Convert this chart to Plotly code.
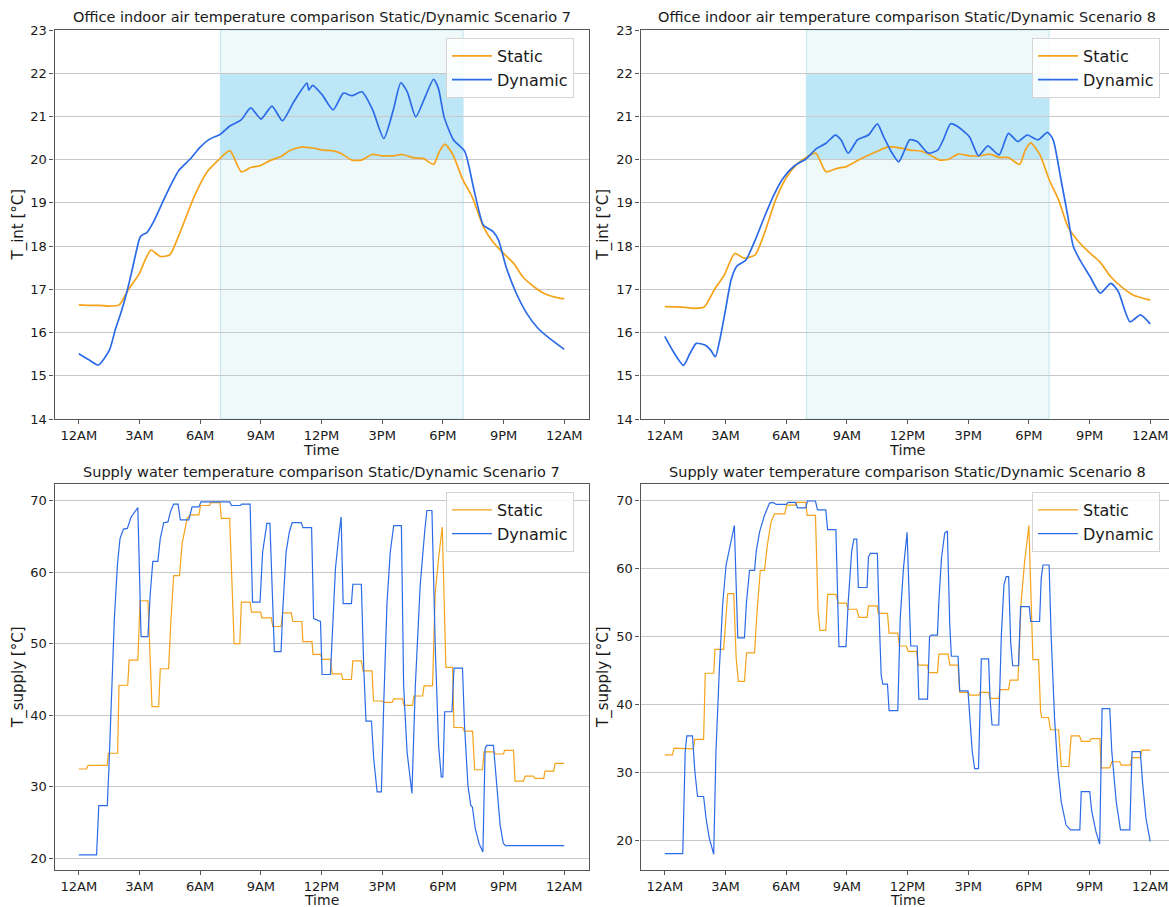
import plotly.graph_objects as go

# ---------------- data ----------------
tick_hours = [0, 3, 6, 9, 12, 15, 18, 21, 24]
tick_labels = ["12AM", "3AM", "6AM", "9AM", "12PM", "3PM", "6PM", "9PM", "12AM"]

occupied_start, occupied_end = 7, 19
comfort_low, comfort_high = 20, 22

# Scenario 7 indoor temperature
tint7_static_t = [0, 0.5, 1.0, 1.5, 2.0, 2.45, 3.0, 3.3, 3.57, 4.03, 4.5, 5.05, 5.7, 6.35, 6.9, 7.47, 8.03, 8.5,
                  8.95, 9.5, 9.98, 10.44, 11.0, 11.56, 12.1, 12.5, 12.95, 13.5, 13.97, 14.5, 15.0, 15.55, 16.0,
                  16.57, 17.03, 17.54, 17.83, 18.1, 18.5, 18.99, 19.45, 20.0, 20.47, 21.0, 21.5, 21.95, 22.5,
                  23.07, 23.54, 24]
tint7_static_v = [16.64, 16.63, 16.63, 16.61, 16.64, 16.99, 17.37, 17.7, 17.91, 17.76, 17.8, 18.37, 19.14, 19.72,
                  19.99, 20.21, 19.72, 19.82, 19.86, 19.99, 20.07, 20.21, 20.29, 20.27, 20.22, 20.21, 20.15, 19.99,
                  19.99, 20.12, 20.09, 20.09, 20.12, 20.04, 20.03, 19.89, 20.19, 20.36, 20.11, 19.53, 19.14, 18.45,
                  18.1, 17.83, 17.6, 17.29, 17.06, 16.89, 16.82, 16.78]
tint7_dynamic_t = [0, 0.5, 0.97, 1.52, 1.8, 2.08, 2.36, 2.64, 2.82, 3.05, 3.38, 3.66, 4.12, 4.59, 4.96, 5.52, 5.98,
                   6.45, 7.0, 7.47, 8.03, 8.5, 9.01, 9.55, 10.07, 10.63, 11.28, 11.37, 11.56, 12.02, 12.58, 13.08,
                   13.5, 14.0, 14.53, 15.08, 15.55, 15.92, 16.24, 16.66, 17.13, 17.54, 17.78, 18.06, 18.52, 19.08,
                   19.54, 20.0, 20.47, 20.75, 21.12, 21.59, 22.14, 22.7, 23.26, 24]
tint7_dynamic_v = [15.51, 15.37, 15.25, 15.6, 16.06, 16.45, 16.91, 17.45, 17.83, 18.22, 18.32, 18.53, 18.99, 19.45,
                   19.76, 20.02, 20.28, 20.47, 20.59, 20.78, 20.92, 21.2, 20.94, 21.24, 20.9, 21.34, 21.77, 21.61,
                   21.72, 21.51, 21.15, 21.54, 21.48, 21.57, 21.15, 20.49, 21.15, 21.78, 21.57, 20.99, 21.46, 21.86,
                   21.65, 20.99, 20.46, 20.19, 19.3, 18.49, 18.34, 18.14, 17.53, 16.95, 16.45, 16.1, 15.87, 15.61]

# Scenario 8 indoor temperature
tint8_static_t = [0, 0.88, 1.44, 1.95, 2.45, 2.94, 3.46, 3.92, 4.47, 4.93, 5.48, 6.04, 6.59, 7.05, 7.47, 7.97,
                  8.52, 8.98, 9.53, 10.09, 10.64, 11.0, 11.56, 12.11, 12.66, 13.12, 13.58, 14.04, 14.5, 15.06, 15.6,
                  16.07, 16.53, 16.99, 17.54, 17.82, 18.09, 18.55, 19.01, 19.47, 19.93, 20.39, 20.94, 21.5, 22.05,
                  22.6, 23.15, 24]
tint8_static_v = [16.6, 16.59, 16.56, 16.59, 16.99, 17.33, 17.83, 17.72, 17.8, 18.3, 19.07, 19.61, 19.92, 20.07,
                  20.15, 19.72, 19.8, 19.84, 19.98, 20.11, 20.22, 20.29, 20.28, 20.22, 20.2, 20.11, 19.99, 20.01,
                  20.13, 20.09, 20.09, 20.13, 20.05, 20.05, 19.89, 20.22, 20.39, 20.11, 19.53, 19.07, 18.45, 18.14,
                  17.87, 17.64, 17.29, 17.05, 16.87, 16.75]
tint8_dynamic_t = [0, 0.42, 0.92, 1.25, 1.56, 1.99, 2.26, 2.5, 2.72, 3.0, 3.28, 3.55, 4.01, 4.47, 4.93, 5.39, 5.85,
                   6.41, 6.96, 7.51, 7.97, 8.43, 8.71, 9.07, 9.53, 10.07, 10.51, 10.82, 11.19, 11.56, 11.83, 12.11,
                   12.48, 13.03, 13.49, 13.77, 14.13, 14.5, 15.06, 15.51, 15.97, 16.53, 16.99, 17.45, 17.91, 18.46,
                   18.92, 19.2, 19.56, 19.93, 20.2, 20.57, 21.03, 21.53, 22.05, 22.42, 23.0, 23.52, 24]
tint8_dynamic_v = [15.91, 15.56, 15.24, 15.52, 15.75, 15.71, 15.6, 15.44, 15.83, 16.52, 17.22, 17.53, 17.68, 18.14,
                   18.68, 19.18, 19.57, 19.86, 20.01, 20.26, 20.38, 20.57, 20.46, 20.15, 20.46, 20.57, 20.83, 20.53,
                   20.19, 19.95, 20.19, 20.46, 20.42, 20.15, 20.22, 20.46, 20.83, 20.76, 20.53, 20.09, 20.32, 20.11,
                   20.61, 20.42, 20.57, 20.46, 20.63, 20.46, 19.61, 18.68, 17.99, 17.64, 17.29, 16.91, 17.14, 16.95,
                   16.25, 16.41, 16.2]

# Scenario 7 supply water temperature
supply7_static_t = [0, 0.38, 0.46, 1.41, 1.46, 1.92, 1.99, 2.42, 2.49, 2.92, 3.03, 3.42, 3.62, 3.95, 4.03, 4.44,
                    4.55, 4.69, 4.98, 5.11, 5.36, 5.52, 5.94, 6.02, 6.47, 6.52, 6.98, 7.05, 7.46, 7.68, 7.96, 8.04,
                    8.47, 8.54, 8.99, 9.05, 9.52, 9.59, 10.0, 10.08, 10.51, 10.58, 11.03, 11.08, 11.53, 11.58, 11.95,
                    12.03, 12.44, 12.53, 12.99, 13.05, 13.48, 13.55, 13.97, 14.06, 14.5, 14.57, 14.99, 15.08, 15.49,
                    15.57, 16.01, 16.08, 16.5, 16.57, 17.0, 17.07, 17.49, 17.62, 17.79, 17.97, 18.15, 18.48, 18.55,
                    18.97, 19.06, 19.47, 19.57, 19.96, 20.04, 20.52, 20.59, 21.0, 21.05, 21.49, 21.57, 21.98, 22.07,
                    22.48, 22.56, 22.99, 23.05, 23.48, 23.55, 24.0]
supply7_static_v = [32.5, 32.5, 33.0, 33.0, 34.7, 34.7, 44.2, 44.2, 47.7, 47.7, 56.0, 56.0, 41.2, 41.2, 46.5, 46.5,
                    53.0, 59.5, 59.5, 64.0, 67.5, 68.0, 68.0, 69.3, 69.3, 69.7, 69.7, 67.5, 67.5, 50.0, 50.0, 55.8,
                    55.8, 54.4, 54.4, 53.6, 53.6, 52.4, 52.4, 54.3, 54.3, 53.1, 53.1, 50.3, 50.3, 48.5, 48.5, 47.8,
                    47.8, 45.8, 45.8, 45.0, 45.0, 47.6, 47.6, 46.2, 46.2, 42.0, 42.0, 41.8, 41.8, 42.3, 42.3, 41.4,
                    41.4, 42.7, 42.7, 44.1, 44.1, 57.0, 62.0, 66.3, 46.7, 46.7, 38.3, 38.3, 37.8, 37.8, 32.4, 32.4,
                    34.9, 34.9, 34.6, 34.6, 35.1, 35.1, 30.8, 30.8, 31.5, 31.5, 31.2, 31.2, 32.2, 32.2, 33.3, 33.3]
supply7_dynamic_t = [0, 0.88, 0.99, 1.41, 1.49, 1.63, 1.76, 1.91, 2.04, 2.21, 2.40, 2.59, 2.79, 2.92, 3.08, 3.42,
                     3.53, 3.66, 3.91, 4.03, 4.2, 4.41, 4.53, 4.69, 4.91, 5.02, 5.44, 5.6, 5.94, 6.04, 7.46, 7.55,
                     7.98, 8.06, 8.47, 8.59, 8.96, 9.09, 9.3, 9.45, 9.67, 10.0, 10.08, 10.25, 10.41, 10.55, 11.0,
                     11.08, 11.51, 11.61, 11.95, 12.03, 12.44, 12.53, 12.69, 12.86, 12.97, 13.07, 13.48, 13.55,
                     13.97, 14.09, 14.2, 14.47, 14.58, 14.75, 14.96, 15.08, 15.24, 15.4, 15.57, 15.95, 16.06, 16.23,
                     16.47, 16.64, 16.88, 17.1, 17.21, 17.46, 17.63, 17.79, 17.92, 18.0, 18.09, 18.45, 18.55, 18.97,
                     19.07, 19.24, 19.38, 19.46, 19.6, 19.79, 19.98, 20.09, 20.17, 20.5, 20.66, 20.83, 20.99, 21.1,
                     24.0]
supply7_dynamic_v = [20.5, 20.5, 27.4, 27.4, 32.6, 44.2, 53.5, 61.0, 64.7, 66.0, 66.1, 67.7, 68.6, 69.0, 51.0, 51.0,
                     56.8, 61.5, 61.5, 64.7, 66.9, 67.0, 68.4, 69.5, 69.5, 67.3, 67.3, 69.1, 69.1, 69.8, 69.8, 69.3,
                     69.3, 69.5, 69.5, 55.8, 55.8, 62.8, 66.8, 66.8, 48.9, 48.9, 54.4, 62.8, 65.6, 66.9, 66.9, 66.2,
                     66.2, 53.5, 53.1, 45.7, 45.7, 51.2, 60.5, 65.2, 67.7, 55.6, 55.6, 58.3, 58.3, 46.5, 39.2, 39.2,
                     34.0, 29.3, 29.3, 41.9, 55.8, 62.8, 66.5, 66.5, 44.2, 34.9, 29.1, 44.2, 58.2, 65.6, 68.6, 68.6,
                     48.9, 35.8, 31.4, 31.4, 40.5, 40.5, 46.6, 46.6, 38.6, 30.2, 27.4, 27.2, 24.2, 22.1, 20.9, 35.4,
                     35.8, 35.8, 30.2, 24.7, 22.1, 21.8, 21.8]

# Scenario 8 supply water temperature
supply8_static_t = [0, 0.38, 0.46, 1.41, 1.49, 1.92, 2.0, 2.42, 2.48, 2.91, 3.11, 3.41, 3.53, 3.64, 3.94, 4.04,
                    4.44, 4.54, 4.72, 4.93, 5.07, 5.26, 5.43, 5.93, 6.03, 6.46, 6.52, 6.97, 7.04, 7.45, 7.58, 7.67,
                    7.96, 8.05, 8.46, 8.58, 8.97, 9.07, 9.49, 9.6, 10.0, 10.07, 10.5, 10.56, 11.01, 11.09, 11.52,
                    11.6, 11.95, 12.03, 12.44, 12.53, 12.99, 13.05, 13.48, 13.55, 14.01, 14.09, 14.5, 14.58, 14.99,
                    15.08, 15.52, 15.59, 16.01, 16.08, 16.51, 16.57, 17.0, 17.07, 17.46, 17.62, 17.79, 18.0, 18.2,
                    18.48, 18.58, 18.64, 18.97, 19.07, 19.47, 19.6, 19.98, 20.09, 20.5, 20.6, 21.01, 21.08, 21.51,
                    21.57, 22.0, 22.1, 22.49, 22.56, 23.02, 23.09, 23.51, 23.58, 24.0]
supply8_static_v = [32.6, 32.6, 33.6, 33.5, 34.9, 34.9, 44.6, 44.6, 48.1, 48.1, 56.3, 56.3, 46.8, 43.4, 43.4, 47.6,
                    47.6, 52.7, 59.7, 59.7, 63.4, 66.9, 68.0, 68.0, 69.3, 69.3, 69.7, 69.7, 67.8, 67.8, 53.6, 50.9,
                    50.9, 56.2, 56.2, 54.9, 54.9, 54.0, 54.0, 52.8, 52.8, 54.5, 54.5, 53.4, 53.4, 50.5, 50.5, 48.6,
                    48.6, 47.8, 47.8, 45.8, 45.8, 44.7, 44.7, 47.4, 47.4, 45.8, 45.8, 41.8, 41.8, 41.4, 41.4, 41.8,
                    41.8, 40.9, 40.9, 42.2, 42.2, 43.6, 43.6, 55.1, 61.0, 66.3, 46.6, 46.6, 39.0, 38.1, 38.1, 36.3,
                    36.3, 30.9, 30.9, 35.4, 35.4, 34.6, 34.6, 35.0, 35.0, 30.7, 30.7, 31.6, 31.6, 31.1, 31.1, 32.2,
                    32.2, 33.3, 33.3]
supply8_dynamic_t = [0, 0.89, 1.01, 1.09, 1.37, 1.49, 1.62, 1.92, 2.04, 2.2, 2.42, 2.53, 2.7, 2.86, 3.03, 3.25,
                     3.44, 3.53, 3.61, 3.94, 4.04, 4.19, 4.44, 4.52, 4.69, 4.93, 5.18, 5.35, 5.51, 6.01, 6.09, 6.46,
                     6.56, 6.97, 7.05, 7.45, 7.55, 7.96, 8.05, 8.46, 8.61, 8.96, 9.07, 9.24, 9.35, 9.49, 9.57, 10.0,
                     10.07, 10.17, 10.51, 10.6, 10.7, 10.78, 11.01, 11.09, 11.52, 11.64, 11.8, 11.98, 12.07, 12.16,
                     12.48, 12.56, 12.99, 13.09, 13.18, 13.48, 13.55, 13.68, 13.84, 13.97, 14.09, 14.17, 14.5, 14.58,
                     14.99, 15.08, 15.2, 15.32, 15.51, 15.65, 16.01, 16.08, 16.18, 16.51, 16.64, 16.77, 16.88, 17.0,
                     17.1, 17.2, 17.49, 17.59, 18.02, 18.09, 18.53, 18.61, 18.7, 19.0, 19.1, 19.27, 19.43, 19.6,
                     19.84, 20.06, 20.52, 20.59, 21.01, 21.11, 21.32, 21.5, 21.62, 22.0, 22.1, 22.32, 22.53, 22.99,
                     23.1, 23.51, 23.63, 23.79, 24.0]
supply8_dynamic_v = [18.1, 18.1, 33.1, 35.4, 35.4, 30.1, 26.5, 26.5, 23.3, 20.4, 18.0, 33.1, 45.3, 54.6, 60.5, 63.9,
                     66.3, 57.6, 49.8, 49.8, 55.1, 59.7, 59.7, 62.5, 65.4, 67.8, 69.6, 69.7, 69.4, 69.4, 69.7, 69.7,
                     68.9, 68.9, 69.9, 69.9, 68.6, 68.6, 65.7, 65.7, 48.5, 48.5, 55.1, 62.5, 64.3, 64.3, 57.2, 57.2,
                     61.7, 62.2, 62.2, 52.7, 44.3, 43.0, 43.0, 39.1, 39.1, 52.7, 60.0, 65.3, 55.6, 48.6, 48.6, 40.8,
                     40.8, 50.0, 50.2, 50.2, 55.1, 61.5, 65.2, 65.5, 51.7, 47.1, 47.1, 42.0, 42.0, 38.0, 33.1, 30.6,
                     30.6, 46.7, 46.7, 40.9, 37.0, 37.0, 50.2, 57.6, 58.8, 58.8, 49.2, 45.7, 45.7, 54.4, 54.4, 52.2,
                     52.2, 58.5, 60.5, 60.5, 50.2, 38.0, 30.6, 25.7, 22.3, 21.6, 21.6, 27.2, 27.2, 24.3, 21.3, 19.5,
                     39.4, 39.4, 33.1, 25.7, 21.6, 21.6, 33.1, 33.1, 28.2, 23.3, 19.9]

# ---------------- styling ----------------
W, H = 1169, 907
STATIC_COLOR = "#f5a31a"
DYNAMIC_COLOR = "#2b6be8"
FONT = "DejaVu Sans"
TXT = "#1a1a1a"


def px_x(p):
    return p / W


def px_y(p):
    return 1 - p / H


left_dom = [px_x(54.5), px_x(588.5)]
right_dom = [px_x(640.5), 1.0]
top_dom = [px_y(419), px_y(30)]
bot_dom = [px_y(870), px_y(484)]
pxh = (588.5 - 54.5) / 26.4
right_range = [-1.2, -1.2 + (W - 640.5) / pxh]

fig = go.Figure()

panels = [
    ("x", "y", "legend", (tint7_static_t, tint7_static_v), (tint7_dynamic_t, tint7_dynamic_v), 1.7,
     "Office indoor air temperature comparison Static/Dynamic Scenario 7", "T_int [°C]",
     left_dom, top_dom, [14, 23], [-1.2, 25.2], True, "spline", [14, 15, 16, 17, 18, 19, 20, 21, 22, 23]),
    ("x2", "y2", "legend2", (tint8_static_t, tint8_static_v), (tint8_dynamic_t, tint8_dynamic_v), 1.7,
     "Office indoor air temperature comparison Static/Dynamic Scenario 8", "T_int [°C]",
     right_dom, top_dom, [14, 23], right_range, False, "spline", [14, 15, 16, 17, 18, 19, 20, 21, 22, 23]),
    ("x3", "y3", "legend3", (supply7_static_t, supply7_static_v), (supply7_dynamic_t, supply7_dynamic_v), 1.2,
     "Supply water temperature comparison Static/Dynamic Scenario 7", "T_supply [°C]",
     left_dom, bot_dom, [18.4, 72.3], [-1.2, 25.2], True, "linear", [20, 30, 40, 50, 60, 70]),
    ("x4", "y4", "legend4", (supply8_static_t, supply8_static_v), (supply8_dynamic_t, supply8_dynamic_v), 1.2,
     "Supply water temperature comparison Static/Dynamic Scenario 8", "T_supply [°C]",
     right_dom, bot_dom, [15.7, 72.4], right_range, False, "linear", [20, 30, 40, 50, 60, 70]),
]

annotations = []
shapes = []
layout_axes = {}
legends = {}

for i, (xa, ya, lg, st, dy, lw, title, ylab, xdom, ydom, yr, xr, mirror, shape, yt) in enumerate(panels):
    fig.add_trace(go.Scatter(x=st[0], y=st[1], mode="lines", name="Static",
                             line=dict(color=STATIC_COLOR, width=lw, shape=shape, smoothing=0.6),
                             xaxis=xa, yaxis=ya, legend=lg))
    fig.add_trace(go.Scatter(x=dy[0], y=dy[1], mode="lines", name="Dynamic",
                             line=dict(color=DYNAMIC_COLOR, width=lw, shape=shape, smoothing=0.6),
                             xaxis=xa, yaxis=ya, legend=lg))
    xkey = "xaxis" if xa == "x" else "xaxis" + xa[1:]
    ykey = "yaxis" if ya == "y" else "yaxis" + ya[1:]
    layout_axes[xkey] = dict(domain=xdom, range=xr, anchor=ya, tickmode="array", tickvals=tick_hours,
                             ticktext=tick_labels, showgrid=False, zeroline=False, showline=True,
                             linecolor="#555555", linewidth=1.2, mirror=True, ticks="outside", ticklen=4,
                             tickcolor="#555555", tickfont=dict(family=FONT, size=13, color=TXT),
                             automargin=False)
    layout_axes[ykey] = dict(domain=ydom, range=yr, anchor=xa, tickmode="array", tickvals=yt,
                             showgrid=True, gridcolor="#c8c8c8", gridwidth=1, zeroline=False, showline=True,
                             linecolor="#555555", linewidth=1.2, mirror=mirror, ticks="outside", ticklen=4,
                             tickcolor="#555555", tickfont=dict(family=FONT, size=13, color=TXT),
                             automargin=False)
    xc = (xdom[0] + xdom[1]) / 2 if mirror else (xdom[0] + px_x(1174)) / 2
    top_px = 17 if i < 2 else 472
    annotations.append(dict(text=title, x=xc, y=px_y(top_px), xref="paper", yref="paper", showarrow=False,
                            xanchor="center", yanchor="middle", font=dict(family=FONT, size=14.5, color=TXT)))
    time_px = 450 if i < 2 else 900
    annotations.append(dict(text="Time", x=xc, y=px_y(time_px), xref="paper", yref="paper", showarrow=False,
                            xanchor="center", yanchor="middle", borderpad=0,
                            font=dict(family=FONT, size=14.5 if i < 2 else 14, color=TXT)))
    ylab_x = 18 if mirror else 603
    annotations.append(dict(text=ylab, x=px_x(ylab_x), y=(ydom[0] + ydom[1]) / 2, xref="paper", yref="paper",
                            showarrow=False, textangle=-90, xanchor="center", yanchor="middle",
                            font=dict(family=FONT, size=15, color=TXT)))
    leg_right = 574 if mirror else 1160
    leg_top = 38 if i < 2 else 492
    legends[lg] = dict(x=px_x(leg_right), y=px_y(leg_top), xanchor="right", yanchor="top",
                       bgcolor="rgba(255,255,255,0.85)", bordercolor="#d4d4d4", borderwidth=1,
                       font=dict(family=FONT, size=16, color=TXT), itemwidth=40, tracegroupgap=0)
    if i < 2:
        shapes.append(dict(type="rect", xref=xa, yref=ya + " domain", x0=occupied_start, x1=occupied_end,
                           y0=0, y1=1, fillcolor="#eff9f9", line=dict(color="#bfe6ee", width=1), layer="below"))
        shapes.append(dict(type="rect", xref=xa, yref=ya, x0=occupied_start, x1=occupied_end,
                           y0=comfort_low, y1=comfort_high, fillcolor="#bde6f7", line=dict(width=0),
                           layer="below"))

fig.update_layout(
    width=W, height=H, autosize=False,
    margin=dict(l=0, r=0, t=0, b=0, pad=0, autoexpand=False),
    paper_bgcolor="white", plot_bgcolor="rgba(0,0,0,0)",
    showlegend=True,
    annotations=annotations, shapes=shapes,
    font=dict(family=FONT, color=TXT),
    **layout_axes, **legends,
)

fig.write_html("out.html", config={"responsive": False, "displayModeBar": False},
               post_script="document.body.style.margin='0';document.body.style.padding='0';"
                           "document.body.style.overflow='hidden';")
